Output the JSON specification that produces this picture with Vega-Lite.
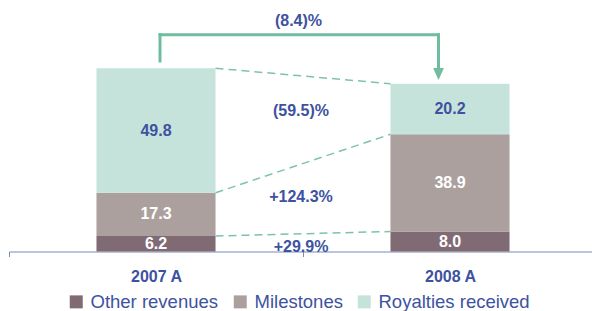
{
  "$schema": "https://vega.github.io/schema/vega-lite/v6.json",
  "width": 583,
  "height": 250,
  "padding": {"left": 9, "top": 1.5, "right": 0, "bottom": 59.5},
  "autosize": {"type": "none"},
  "background": "white",
  "config": {"view": {"stroke": null}, "font": "Liberation Sans"},
  "datasets": {
    "segments": [
      {"year": "2007 A", "series": "Other revenues", "order": 1, "value": 6.2},
      {"year": "2007 A", "series": "Milestones", "order": 2, "value": 17.3},
      {"year": "2007 A", "series": "Royalties received", "order": 3, "value": 49.8},
      {"year": "2008 A", "series": "Other revenues", "order": 1, "value": 8.0},
      {"year": "2008 A", "series": "Milestones", "order": 2, "value": 38.9},
      {"year": "2008 A", "series": "Royalties received", "order": 3, "value": 20.2}
    ],
    "links": [
      {"from": "2007 A", "to": "2008 A", "start": 73.3, "end": 67.1},
      {"from": "2007 A", "to": "2008 A", "start": 23.5, "end": 46.9},
      {"from": "2007 A", "to": "2008 A", "start": 6.2, "end": 8.0}
    ],
    "changes": [
      {"label": "(59.5)%", "pos": 56.3},
      {"label": "+124.3%", "pos": 21.7},
      {"label": "+29.9%", "pos": 1.8}
    ],
    "total": [
      {"from": "2007 A", "to": "2008 A", "label": "(8.4)%", "top": 86.7, "start": 76.2, "end": 73.0, "tip": 71.0, "labelpos": 92.2}
    ]
  },
  "layer": [
    {
      "data": {"name": "segments"},
      "transform": [
        {"stack": "value", "groupby": ["year"], "sort": [{"field": "order"}], "as": ["v0", "v1"]}
      ],
      "mark": {"type": "bar", "width": {"band": 0.405}},
      "encoding": {
        "x": {
          "field": "year",
          "type": "nominal",
          "scale": {"domain": ["2007 A", "2008 A"], "range": [0, 588], "paddingInner": 0, "paddingOuter": 0},
          "axis": {
            "title": null,
            "labelAngle": 0,
            "domainColor": "#7b88c0",
            "domainWidth": 1,
            "tickColor": "#7b88c0",
            "tickSize": 5,
            "tickBand": "extent",
            "labelFont": "Liberation Sans",
            "labelFontSize": 16,
            "labelFontWeight": "bold",
            "labelColor": "#3d52a0",
            "labelPadding": 12
          }
        },
        "y": {"field": "v0", "type": "quantitative", "scale": {"domain": [0, 100]}, "axis": null},
        "y2": {"field": "v1"},
        "color": {
          "field": "series",
          "type": "nominal",
          "scale": {"domain": ["Other revenues", "Milestones", "Royalties received"], "range": ["#806b75", "#aca09f", "#c6e3db"]},
          "legend": {
            "title": null,
            "orient": "none",
            "direction": "horizontal",
            "legendX": 58,
            "legendY": 291,
            "symbolType": "square",
            "symbolSize": 169,
            "symbolStrokeWidth": 0,
            "labelFont": "Liberation Sans",
            "labelFontSize": 18.5,
            "labelColor": "#3d52a0",
            "labelOffset": 5,
            "columnPadding": 12
          }
        },
        "order": {"field": "order"}
      }
    },
    {
      "data": {"name": "links"},
      "mark": {"type": "rule", "strokeDash": [8, 5], "color": "#7dc3a9", "strokeWidth": 1.5, "xOffset": 59.5, "x2Offset": -59.5},
      "encoding": {
        "x": {"field": "from", "type": "nominal"},
        "x2": {"field": "to"},
        "y": {"field": "start", "type": "quantitative"},
        "y2": {"field": "end"}
      }
    },
    {
      "data": {"name": "segments"},
      "transform": [
        {"stack": "value", "groupby": ["year"], "sort": [{"field": "order"}], "as": ["v0", "v1"]},
        {"calculate": "(datum.v0 + datum.v1) / 2", "as": "mid"}
      ],
      "mark": {"type": "text", "font": "Liberation Sans", "fontSize": 16, "fontWeight": "bold", "baseline": "middle", "align": "center"},
      "encoding": {
        "x": {"field": "year", "type": "nominal"},
        "y": {"field": "mid", "type": "quantitative"},
        "text": {"field": "value", "type": "quantitative", "format": ".1f"},
        "fill": {"condition": {"test": "datum.series === 'Royalties received'", "value": "#3d52a0"}, "value": "white"}
      }
    },
    {
      "data": {"name": "changes"},
      "mark": {"type": "text", "font": "Liberation Sans", "fontSize": 16, "fontWeight": "bold", "baseline": "middle", "align": "center", "color": "#3d52a0", "dx": -2},
      "encoding": {
        "x": {"datum": "2008 A", "type": "nominal", "bandPosition": 0},
        "y": {"field": "pos", "type": "quantitative"},
        "text": {"field": "label"}
      }
    },
    {
      "data": {"name": "total"},
      "mark": {"type": "rule", "color": "#6fbc9f", "strokeWidth": 3, "strokeCap": "square", "xOffset": 4},
      "encoding": {
        "x": {"field": "from", "type": "nominal"},
        "y": {"field": "top", "type": "quantitative"},
        "y2": {"field": "start"}
      }
    },
    {
      "data": {"name": "total"},
      "mark": {"type": "rule", "color": "#6fbc9f", "strokeWidth": 3, "strokeCap": "square", "xOffset": 4, "x2Offset": -11.5},
      "encoding": {
        "x": {"field": "from", "type": "nominal"},
        "x2": {"field": "to"},
        "y": {"field": "top", "type": "quantitative"}
      }
    },
    {
      "data": {"name": "total"},
      "mark": {"type": "rule", "color": "#6fbc9f", "strokeWidth": 3, "strokeCap": "square", "xOffset": -11.5},
      "encoding": {
        "x": {"field": "to", "type": "nominal"},
        "y": {"field": "top", "type": "quantitative"},
        "y2": {"field": "end"}
      }
    },
    {
      "data": {"name": "total"},
      "mark": {"type": "point", "shape": "M-0.9,-1L0.9,-1L0,1Z", "filled": true, "size": 144, "color": "#6fbc9f", "opacity": 1, "xOffset": -11.5},
      "encoding": {
        "x": {"field": "to", "type": "nominal"},
        "y": {"field": "tip", "type": "quantitative"}
      }
    },
    {
      "data": {"name": "total"},
      "mark": {"type": "text", "font": "Liberation Sans", "fontSize": 16, "fontWeight": "bold", "baseline": "middle", "align": "center", "color": "#3d52a0", "dx": -4.5},
      "encoding": {
        "x": {"field": "to", "type": "nominal", "bandPosition": 0},
        "y": {"field": "labelpos", "type": "quantitative"},
        "text": {"field": "label"}
      }
    }
  ]
}
